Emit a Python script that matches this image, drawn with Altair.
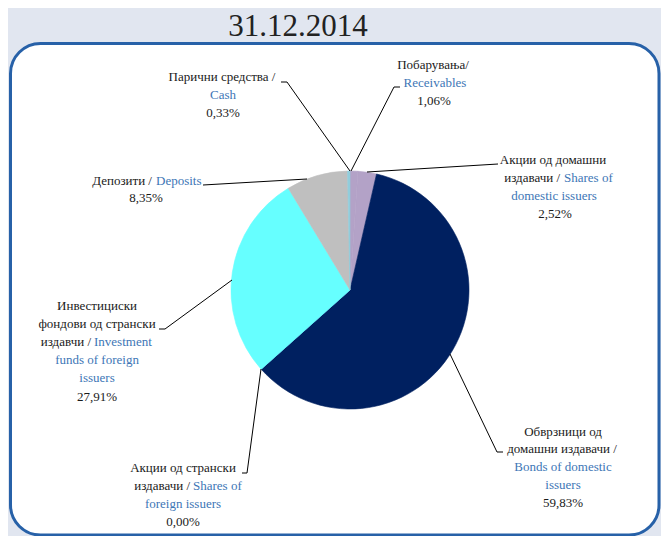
import altair as alt
import pandas as pd

OFF = 8          # page margin
W, H = 653, 528  # chart size (fills the 669x544 window)

# ---------------- data ----------------
keys = ["receivables", "shares_dom", "bonds", "shares_for", "funds", "deposits", "cash"]
labels_mk = ["Побарувања", "Акции од домашни издавачи", "Обврзници од домашни издавачи",
             "Акции од странски издавачи", "Инвестициски фондови од странски издавчи",
             "Депозити", "Парични средства"]
labels_en = ["Receivables", "Shares of domestic issuers", "Bonds of domestic issuers",
             "Shares of foreign issuers", "Investment funds of foreign issuers",
             "Deposits", "Cash"]
shares = [1.06, 2.52, 59.83, 0.00, 27.91, 8.35, 0.33]
slice_colors = ["#B3A2C7", "#B3A2C7", "#002060", "#4F81BD", "#66FFFF", "#BFBFBF", "#92CDDC"]

title_text = "31.12.2014"

def pct(v):
    return f"{v:.2f}".replace(".", ",") + "%"

pct_by_key = {k: pct(v) for k, v in zip(keys, shares)}

# ---------------- layout (page coordinates) ----------------
BLACK = "#1a1a1a"
BLUE = "#3D76B6"
CX, CY, R = 350, 290, 119

# (text, x, y, align, colour)
segments = [
    ("Парични средства /", 222, 77, "center", BLACK),
    ("Cash", 223, 95, "center", BLUE),
    (pct_by_key["cash"], 223, 113, "center", BLACK),

    ("Побарувања/", 433, 65, "center", BLACK),
    ("Receivables", 435, 83, "center", BLUE),
    (pct_by_key["receivables"], 434, 101, "center", BLACK),

    ("Акции од домашни", 553, 160, "center", BLACK),
    ("издавачи /", 560, 178, "right", BLACK),
    ("Shares of", 564, 178, "left", BLUE),
    ("domestic issuers", 554, 196, "center", BLUE),
    (pct_by_key["shares_dom"], 555, 214, "center", BLACK),

    ("Депозити /", 152, 181, "right", BLACK),
    ("Deposits", 156, 181, "left", BLUE),
    (pct_by_key["deposits"], 146, 198, "center", BLACK),

    ("Инвестициски", 97, 306, "center", BLACK),
    ("фондови од странски", 97, 324, "center", BLACK),
    ("издавчи /", 91, 342, "right", BLACK),
    ("Investment", 94, 342, "left", BLUE),
    ("funds of foreign", 97, 360, "center", BLUE),
    ("issuers", 97, 378, "center", BLUE),
    (pct_by_key["funds"], 97, 397, "center", BLACK),

    ("Акции од странски", 183, 468, "center", BLACK),
    ("издавачи  /", 190, 486, "right", BLACK),
    ("Shares of", 193, 486, "left", BLUE),
    ("foreign issuers", 183, 504, "center", BLUE),
    (pct_by_key["shares_for"], 183, 522, "center", BLACK),

    ("Обврзници од", 563, 432, "center", BLACK),
    ("домашни издавачи /", 562, 449, "center", BLACK),
    ("Bonds of domestic", 563, 467, "center", BLUE),
    ("issuers", 563, 485, "center", BLUE),
    (pct_by_key["bonds"], 563, 503, "center", BLACK),
]

# leader line segments (x, y, x2, y2)
leaders = [
    (281, 82, 287, 82), (287, 82, 350, 171),
    (394, 87, 400, 87), (394, 87, 351, 171),
    (498, 164, 367, 172),
    (203, 185, 307, 179),
    (159, 329, 165, 329), (165, 329, 232, 280),
    (242, 473, 247, 473), (247, 473, 261, 369),
    (503, 452, 497, 452), (497, 452, 450, 354),
]

# ---------------- tables ----------------
pie_df = pd.DataFrame({"key": keys, "mk": labels_mk, "en": labels_en,
                       "share": shares, "idx": list(range(len(keys)))})
seg_df = pd.DataFrame(segments, columns=["text", "x", "y", "align", "color"])
seg_df["x"] = seg_df["x"] - OFF
seg_df["y"] = seg_df["y"] - OFF
lead_df = pd.DataFrame(leaders, columns=["x", "y", "x2", "y2"]) - OFF
one = pd.DataFrame({"a": [0]})

FONT = "Liberation Serif"

frame = alt.Chart(one).mark_rect(
    fill="white", stroke="#2761A8", strokeWidth=3, cornerRadius=30
).encode(
    x=alt.value(10.5 - OFF), x2=alt.value(659 - OFF),
    y=alt.value(43.5 - OFF), y2=alt.value(535 - OFF)
)

slice_scale = alt.Scale(domain=keys, range=slice_colors)
pie = alt.Chart(pie_df).mark_arc(radius=R, strokeWidth=0.6).encode(
    theta=alt.Theta("share:Q", stack=True),
    order=alt.Order("idx:Q"),
    color=alt.Color("key:N", scale=slice_scale, legend=None),
    stroke=alt.Stroke("key:N", scale=slice_scale, legend=None),
    x=alt.value(CX - OFF), y=alt.value(CY - OFF),
)

lines = alt.Chart(lead_df).mark_rule(color="black", strokeWidth=1).encode(
    x=alt.X("x:Q", scale=None), y=alt.Y("y:Q", scale=None),
    x2="x2:Q", y2="y2:Q",
)

def text_layer(align):
    return alt.Chart(seg_df[seg_df["align"] == align]).mark_text(
        align=align, baseline="middle", font=FONT, fontSize=13
    ).encode(
        x=alt.X("x:Q", scale=None), y=alt.Y("y:Q", scale=None),
        text="text:N", color=alt.Color("color:N", scale=None),
    )

title = alt.Chart(one).mark_text(
    align="center", baseline="alphabetic", font=FONT, fontSize=31, color="#222222"
).encode(x=alt.value(298 - OFF), y=alt.value(36 - OFF), text=alt.value(title_text))

chart = alt.layer(
    frame, pie, lines, text_layer("center"), text_layer("left"), text_layer("right"), title
).properties(
    width=W, height=H, padding=0, autosize=alt.AutoSizeParams(type="none")
).configure(
    background="#E1E6F0"
).configure_view(stroke=None)

chart.save("out.html", embed_options={"renderer": "svg", "actions": False})
